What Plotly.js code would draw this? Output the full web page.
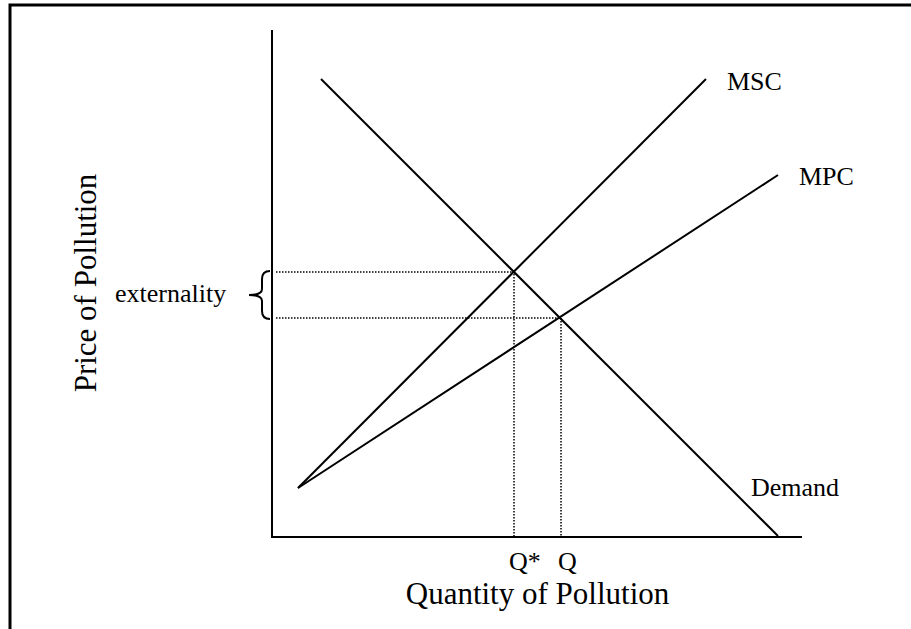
<!DOCTYPE html>
<html>
<head>
<meta charset="utf-8">
<script src="https://cdn.plot.ly/plotly-3.0.1.min.js"></script>
<style>html,body{margin:0;padding:0;background:#fff;}#chart{width:911px;height:629px;}</style>
</head>
<body>
<div id="chart"></div>
<script>
// Quantity of pollution (x) and price of pollution (y)
const demandQ = [4.8, 50.5];
const demandP = [45.7, 0];
const mscQ = [2.5, 43.3];
const mscP = [4.8, 45.7];
const mpcQ = [2.5, 50.5];
const mpcP = [4.8, 36.1];
const qStar = 24.1, pStar = 26.4;   // MSC meets Demand
const qMkt = 28.8, pMkt = 21.8;     // MPC meets Demand
const lineLabels = ["MSC", "MPC", "Demand"];
const qLabels = ["Q*", "Q"];
const xTitle = "Quantity of Pollution";
const yTitle = "Price of Pollution";
const extLabel = "externality";

const W = 911, H = 629;
const M = {l: 273, r: 109, t: 30, b: 93};
const pw = W - M.l - M.r, ph = H - M.t - M.b;
const px = x => (x - M.l) / pw;          // pixel -> paper
const py = y => (H - M.b - y) / ph;

const FONT = "Liberation Serif, Times New Roman, serif";
const solid = {color: "#000", width: 2};
const dotted = {color: "#000", width: 1.5, dash: "1.5px,1.5px"};

const traces = [
  {x: demandQ, y: demandP, mode: "lines", line: solid, name: "Demand"},
  {x: mscQ, y: mscP, mode: "lines", line: solid, name: "MSC"},
  {x: mpcQ, y: mpcP, mode: "lines", line: solid, name: "MPC"},
  {x: [0.3, qStar, qStar], y: [pStar, pStar, 0], mode: "lines", line: dotted},
  {x: [0.3, qMkt, qMkt], y: [pMkt, pMkt, 0], mode: "lines", line: dotted}
];

const brace = "M " + px(270) + " " + py(271) +
  " Q " + px(262) + " " + py(271) + " " + px(262) + " " + py(279) +
  " L " + px(262) + " " + py(289) +
  " Q " + px(262) + " " + py(295) + " " + px(249) + " " + py(295) +
  " Q " + px(262) + " " + py(295) + " " + px(262) + " " + py(301) +
  " L " + px(262) + " " + py(311) +
  " Q " + px(262) + " " + py(319) + " " + px(270) + " " + py(319);

const txt = (s, size) => ({text: s, showarrow: false, font: {family: FONT, size: size, color: "#000"}});

const layout = {
  width: W, height: H,
  margin: M,
  paper_bgcolor: "#fff", plot_bgcolor: "#fff",
  showlegend: false,
  xaxis: {range: [0, 52.9], showline: true, linecolor: "#000", linewidth: 2,
          showgrid: false, zeroline: false, showticklabels: false, ticks: "",
          fixedrange: true,
          title: {text: xTitle, font: {family: FONT, size: 31, color: "#000"}, standoff: 45}},
  yaxis: {range: [0, 50.6], showline: true, linecolor: "#000", linewidth: 2,
          showgrid: false, zeroline: false, showticklabels: false, ticks: "",
          fixedrange: true,
          title: {text: yTitle, font: {family: FONT, size: 31, color: "#000"}, standoff: 165}},
  shapes: [
    {type: "rect", xref: "paper", yref: "paper", x0: px(10), y0: py(5), x1: px(930), y1: py(660),
     line: {color: "#000", width: 3}},
    {type: "path", xref: "paper", yref: "paper", path: brace, line: {color: "#000", width: 2}}
  ],
  annotations: [
    Object.assign(txt(lineLabels[0], 26), {x: mscQ[1] + 1.9, y: mscP[1] - 0.2, xref: "x", yref: "y", xanchor: "left", yanchor: "middle"}),
    Object.assign(txt(lineLabels[1], 26), {x: mpcQ[1] + 1.9, y: mpcP[1] - 0.1, xref: "x", yref: "y", xanchor: "left", yanchor: "middle"}),
    Object.assign(txt(lineLabels[2], 26), {x: 47.6, y: 4.9, xref: "x", yref: "y", xanchor: "left", yanchor: "middle"}),
    Object.assign(txt(qLabels[0], 26), {x: qStar + 1.1, y: py(561), xref: "x", yref: "paper", xanchor: "center", yanchor: "middle"}),
    Object.assign(txt(qLabels[1], 26), {x: qMkt + 0.6, y: py(561), xref: "x", yref: "paper", xanchor: "center", yanchor: "middle"}),
    Object.assign(txt(extLabel, 26), {x: px(170), y: (pStar + pMkt) / 2 + 0.2, xref: "paper", yref: "y", xanchor: "center", yanchor: "middle"})
  ]
};

Plotly.newPlot("chart", traces, layout, {staticPlot: true, displayModeBar: false});
</script>
</body>
</html>
